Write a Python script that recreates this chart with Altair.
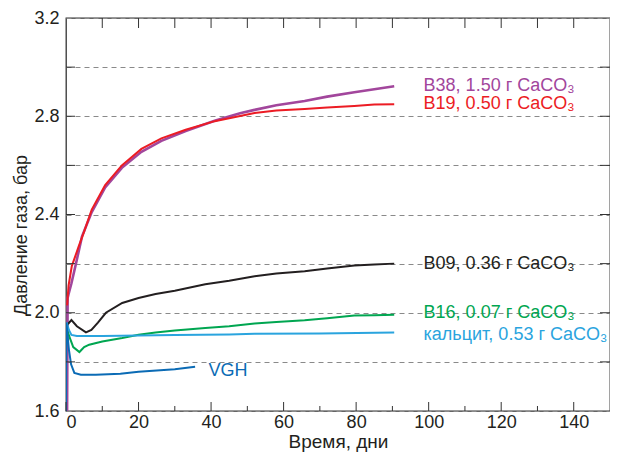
import altair as alt
import pandas as pd

# ---- data ----
names = ["B38", "B19", "B09", "B16", "calcite", "VGH"]
colors = ["#A2469C", "#EC1C24", "#231F20", "#00A651", "#2AA4DE", "#0B6BB5"]
widths = [2.6, 2.0, 2.0, 2.0, 2.0, 2.0]

b38_t = [0.3, 0.45, 0.7, 1.5, 2.6, 4.4, 7.1, 10.8, 15.4, 20.8, 26.3, 33, 41, 44, 48, 52, 58, 65.8, 72, 79.5, 85, 90.5]
b38_p = [1.6, 2.06, 2.076, 2.12, 2.19, 2.31, 2.41, 2.51, 2.59, 2.655, 2.70, 2.74, 2.782, 2.795, 2.812, 2.826, 2.845, 2.862, 2.88, 2.898, 2.91, 2.922]

b19_t = [0.3, 0.7, 1.6, 3.5, 5, 7.1, 10.8, 15.4, 20.8, 26.3, 33, 41, 46, 52, 58, 65.8, 72, 79.5, 85, 90.5]
b19_p = [2.03, 2.11, 2.19, 2.27, 2.33, 2.42, 2.52, 2.60, 2.667, 2.71, 2.745, 2.78, 2.795, 2.813, 2.823, 2.83, 2.836, 2.842, 2.848, 2.849]

b09_t = [0.3, 1.5, 3, 5.5, 7, 8.8, 11, 15.5, 20, 24.7, 30, 38.4, 45, 52, 58, 65.8, 72, 79.5, 85, 90.5]
b09_p = [1.95, 1.97, 1.945, 1.92, 1.93, 1.96, 2.0, 2.04, 2.06, 2.076, 2.09, 2.116, 2.13, 2.149, 2.16, 2.169, 2.18, 2.192, 2.196, 2.2]

b16_t = [0.3, 1, 2, 3.7, 5, 6.4, 10, 15.5, 20, 24.7, 30, 38.4, 45, 52, 58, 65.8, 72, 79.5, 85, 90.5]
b16_p = [1.93, 1.9, 1.86, 1.84, 1.86, 1.87, 1.883, 1.897, 1.91, 1.92, 1.928, 1.938, 1.945, 1.956, 1.962, 1.969, 1.978, 1.989, 1.99, 1.992]

cal_t = [0.2, 0.8, 1.5, 3, 10, 20, 30, 45, 52, 70, 90.5]
cal_p = [1.96, 1.93, 1.91, 1.905, 1.905, 1.907, 1.909, 1.911, 1.914, 1.916, 1.92]

vgh_t = [0.0, 0.1, 0.8, 1.4, 2.3, 4.1, 8.2, 15, 20, 25, 30, 35.6]
vgh_p = [1.6, 1.96, 1.85, 1.79, 1.755, 1.748, 1.748, 1.752, 1.76, 1.765, 1.77, 1.78]

label_text = ["B38, 1.50 г CaCO₃", "B19, 0.50 г CaCO₃", "B09, 0.36 г CaCO₃",
              "B16, 0.07 г CaCO₃", "кальцит, 0.53 г CaCO₃", "VGH"]
label_t = [98.6, 98.6, 98.6, 98.6, 98.6, 39.3]
label_p = [2.923, 2.849, 2.2, 2.0, 1.91, 1.762]

x_major = [0, 20, 40, 60, 80, 100, 120, 140]
x_minor = [10, 30, 50, 70, 90, 110, 130]
x_top = [10, 20, 30, 40, 50, 60, 70, 80, 90, 100, 110, 120, 130, 140]
y_grid = [1.6, 1.8, 2.0, 2.2, 2.4, 2.6, 2.8, 3.0, 3.2]
y_inner = [1.8, 2.0, 2.2, 2.4, 2.6, 2.8, 3.0]

# ---- tables ----
series = [b38_t, b19_t, b09_t, b16_t, cal_t, vgh_t]
values = [b38_p, b19_p, b09_p, b16_p, cal_p, vgh_p]
rows = []
for n, w, ts, ps in zip(names, widths, series, values):
    for t, p in zip(ts, ps):
        rows.append({"s": n, "t": t, "p": p, "w": w})
df = pd.DataFrame(rows)
df_lab = pd.DataFrame({"s": names, "t": label_t, "p": label_p, "txt": label_text})

W, H = 544, 393
FONT = "Liberation Sans"
INK = "#231F20"

x_scale = alt.Scale(domain=[0, 150], nice=False, zero=False)
y_scale = alt.Scale(domain=[1.6, 3.2], nice=False, zero=False)
color_scale = alt.Scale(domain=names, range=colors)

x_axis = alt.Axis(values=x_major, title="Время, дни", grid=False, ticks=False,
                  domain=False, labelPadding=2, format="d",
                  titleFontSize=19, titleY=36, titleBaseline="alphabetic")
y_axis = alt.Axis(values=y_grid, title="Давление газа, бар", grid=True, ticks=False,
                  domain=False, gridDash=[5, 4], gridColor="#8a8a8a", gridWidth=1,
                  labelExpr="round(datum.value*10) % 4 == 0 ? format(datum.value, '.1f') : ''",
                  labelPadding=7, titleX=-45, titleY=217, titleBaseline="middle",
                  titleFontSize=18)

X = alt.X("t:Q", scale=x_scale, axis=x_axis)
Y = alt.Y("p:Q", scale=y_scale, axis=y_axis)

lines = alt.Chart(df).mark_line(clip=True).encode(
    x=X, y=Y,
    color=alt.Color("s:N", scale=color_scale, legend=None),
    strokeWidth=alt.StrokeWidth("w:Q", scale=None, legend=None),
)

labels = alt.Chart(df_lab).mark_text(align="left", baseline="middle", fontSize=18, font=FONT).encode(
    x=X, y=Y, text="txt:N",
    color=alt.Color("s:N", scale=color_scale, legend=None),
)

tick_color = "#333333"
bot_major = alt.Chart(pd.DataFrame({"t": x_major})).mark_rule(color=tick_color, strokeWidth=1).encode(
    x=X, y=alt.value(H), y2=alt.value(H - 9))
bot_minor = alt.Chart(pd.DataFrame({"t": x_minor})).mark_rule(color=tick_color, strokeWidth=1).encode(
    x=X, y=alt.value(H), y2=alt.value(H - 5))
top_ticks = alt.Chart(pd.DataFrame({"t": x_top})).mark_rule(color=tick_color, strokeWidth=1).encode(
    x=X, y=alt.value(0), y2=alt.value(10))
left_ticks = alt.Chart(pd.DataFrame({"p": y_inner})).mark_rule(color=tick_color, strokeWidth=1).encode(
    y=Y, x=alt.value(0), x2=alt.value(9))
right_ticks = alt.Chart(pd.DataFrame({"p": y_inner})).mark_rule(color=tick_color, strokeWidth=1).encode(
    y=Y, x=alt.value(W - 10), x2=alt.value(W))

chart = alt.layer(lines, bot_major, bot_minor, top_ticks, left_ticks, right_ticks, labels).properties(
    width=W, height=H,
    padding={"left": 58, "top": 10, "right": 0, "bottom": 41},
    autosize=alt.AutoSizeParams(type="none"),
).configure_view(
    stroke="#333333", strokeWidth=1.3
).configure_axis(
    labelFont=FONT, titleFont=FONT, labelFontSize=18, titleFontSize=18,
    labelColor=INK, titleColor=INK, titleFontWeight="normal",
)

chart.save("out.html", embed_options={"renderer": "svg", "actions": False})
